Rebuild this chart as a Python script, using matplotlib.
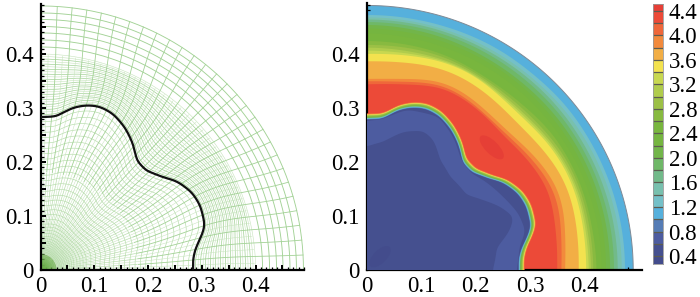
import numpy as np
import matplotlib
matplotlib.use("Agg")
from matplotlib import pyplot as plt
from matplotlib.patches import Ellipse

plt.rcParams['font.family'] = ['Liberation Serif', 'DejaVu Serif']
plt.rcParams['font.size'] = 16.5

# === DATA ===
# interface between the two fluids, polar
iface_theta = [0, 4, 8, 12, 15, 22, 27, 33, 37, 43, 48.5, 54, 59.3, 65, 70, 74.3, 79, 82.3, 84.6, 90]
iface_r = [.2836, .284, .291, .306, .3165, .32, .316, .302, .285, .269, .27, .291, .307, .319, .322, .317, .3055, .2916, .285, .283]

# colour bar
bar_edges = [.27, .4, .6, .8, 1.0, 1.2, 1.4, 1.6, 1.8, 2.0, 2.2, 2.4, 2.6, 2.8, 3.0, 3.2, 3.4, 3.6, 3.8, 4.0, 4.2, 4.4, 4.51]
bar_colors = ['#434c8c', '#45508f', '#4d5ca0', '#557cb5', '#56b0dc', '#74c0c8', '#78c0ae', '#72ba8a',
              '#6fb868', '#72b54a', '#75b540', '#78b63e', '#88ba40', '#9cc046', '#b0cc4c', '#c8d850',
              '#f3e24f', '#f2ae45', '#f28a3c', '#ef673a', '#ec4a38', '#e63f36']
bar_labels = [0.4, 0.8, 1.2, 1.6, 2.0, 2.4, 2.8, 3.2, 3.6, 4.0, 4.4]

# iso lines in the outer part, nearly circular
outer_theta = [0, 15, 30, 40, 50, 60, 75, 90]
outer_levels = [1.2, 1.4, 1.6, 1.8, 2.0, 2.2, 2.4]
outer_radii = [
    [.474, .474, .474, .475, .473, .474, .472, .4713],
    [.468, .468, .468, .468, .467, .467, .467, .467],
    [.4605, .461, .461, .462, .462, .462, .463, .463],
    [.4538, .454, .455, .456, .456, .457, .458, .4584],
    [.4465, .447, .448, .4485, .4483, .449, .452, .453],
    [.439, .440, .441, .442, .443, .444, .445, .4467],
    [.431, .432, .433, .433, .434, .435, .436, .4375],
]

# iso lines of the wavy hot band
wavy_theta = [0, 11, 17, 25, 30, 36, 44, 52, 60, 68, 75, 81, 90]
wavy_levels = [2.6, 2.8, 3.0, 3.2, 3.4, 3.6, 3.8, 4.0, 4.2]
wavy_radii = [
    [.422, .420, .422, .423, .423, .424, .419, .417, .417, .422, .423, .423, .4233],
    [.4158, .4155, .418, .419, .4195, .4165, .413, .4125, .414, .418, .418, .417, .4158],
    [.4115, .411, .414, .415, .415, .412, .408, .408, .412, .414, .412, .411, .411],
    [.4073, .4075, .411, .412, .4115, .409, .404, .405, .410, .412, .409, .406, .4053],
    [.4024, .404, .407, .409, .408, .406, .400, .402, .409, .410, .406, .402, .3986],
    [.3883, .392, .396, .398, .395, .391, .386, .390, .395, .397, .393, .388, .385],
    [.3627, .3695, .378, .381, .376, .371, .363, .365, .372, .375, .365, .356, .3523],
    [.356, .362, .370, .373, .368, .364, .357, .359, .366, .369, .359, .351, .348],
    [.3486, .353, .358, .365, .360, .358, .351, .357, .362, .365, .353, .347, .342],
]

# thin bands hugging the interface
skin_levels = [4.2, 4.0, 3.8, 3.6, 3.4, 3.2, 3.0, 2.8, 2.4, 2.0, 1.6, 1.2, 1.0, 0.8]
skin_offset = [.0058, .005, .0044, .0038, .0032, .0026, .002, .001, -.0004, -.0014, -.0024, -.0034, -.0044, -.0054]

# inner patches of the low value region
light_theta = [0, 8.5, 14, 20.6, 28, 37, 43, 50, 57, 65, 76, 84, 90]
light_r = [.275, .283, .3, .297, .285, .272, .262, .268, .292, .312, .305, .28, .275]
core_theta = [0, 10, 15.7, 20, 25.6, 31, 37, 48.4, 56.5, 63, 68, 75, 82.6, 90]
core_r = [.2312, .2424, .273, .2866, .271, .25, .23, .2306, .2438, .2696, .277, .2644, .239, .228]

# mesh
outer_radius = .489
mesh_split = .4
mesh_spokes = [0, 3.2, 6.4, 9.6, 12.8, 16, 19.2, 22.4, 25.6, 28.8, 32, 35.2, 38.4, 41.6, 44.8, 48,
               51.2, 54.4, 57.6, 60.8, 64, 67.2, 70.4, 73.6, 76.8, 80, 83.2, 86.4, 90]
mesh_inner = [.006, .012, .018, .024, .03, .036, .043, .05, .057, .065, .073, .08, .09, .10, .11, .12, .13, .14,
              .152, .165, .178, .19, .205, .22, .24, .26, .28, .30, .33, .36, .39, .42, .45, .48, .515, .55, .585, .62,
              .655, .69, .725, .76, .795, .83, .865, .90, .935, .97]
mesh_middle = [.04, .08, .12, .16, .20, .24, .28, .32, .36, .40, .44, .48, .52, .56, .60, .64, .68, .72, .76, .80, .84,
               .88, .92, .96]
mesh_coarse = [.413, .426, .439, .451, .464, .476]


# === FUNCTION ===
def polar_line(theta_nodes, r_nodes, window, passes=1):
    # resample on a fine angle and take the corners off
    t = np.linspace(0, 90, 361)
    r = np.interp(t, theta_nodes, r_nodes)
    pad = window // 2
    for _ in range(passes):
        r = np.convolve(np.pad(r, pad, mode='edge'), np.ones(window) / window, mode='valid')
    return np.radians(t), r


def fill_polar(ax, theta, r, color, z):
    x = np.concatenate([[0], r * np.cos(theta), [0]])
    y = np.concatenate([[0], r * np.sin(theta), [0]])
    ax.fill(x, y, color=color, lw=0, zorder=z)


def band_above(level):
    return bar_colors[np.searchsorted(bar_edges, level + .01) - 1]


def band_below(level):
    return bar_colors[np.searchsorted(bar_edges, level - .01) - 1]


def style_axes(ax, xminor):
    for side in ['top', 'right']:
        ax.spines[side].set_visible(False)
    for side in ['left', 'bottom']:
        ax.spines[side].set_linewidth(1.6)
    ax.set_yticks([0, .05, .1, .15, .2, .25, .3, .35, .4, .45])
    ax.set_yticklabels(['0', '', '0.1', '', '0.2', '', '0.3', '', '0.4', ''])
    ax.set_yticks(np.arange(0, .495, .01), minor=True)
    if xminor == .01:
        ax.set_xticks([0, .05, .1, .15, .2, .25, .3, .35, .4, .45])
        ax.set_xticklabels(['0', '', '0.1', '', '0.2', '', '0.3', '', '0.4', ''])
    else:
        ax.set_xticks([0, .1, .2, .3, .4])
        ax.set_xticklabels(['0', '0.1', '0.2', '0.3', '0.4'])
    ax.set_xticks(np.arange(0, .495, xminor), minor=True)
    ax.tick_params(which='major', direction='in', length=3.8, width=1.4, pad=5)
    ax.tick_params(which='minor', direction='in', length=2.2, width=.9)
    ax.tick_params(axis='x', which='major', pad=4)


# === PLOT ===
W, H = 700, 297
fig = plt.figure(figsize=(W / 100, H / 100), dpi=100)

ax1 = fig.add_axes([40.5 / W, (H - 270) / H, 263.5 / W, 266 / H])
ax1.set_xlim(0, .488)
ax1.set_ylim(0, .4926)
ax2 = fig.add_axes([366.7 / W, (H - 270) / H, 275 / W, 266.7 / H])
ax2.set_xlim(0, .5046)
ax2.set_ylim(0, .493)

t, R = polar_line(iface_theta, iface_r, 13, 2)

# left: mesh
faint = '#c6e4bc'
dense = '#b4dba8'
coarse = '#a3d296'
for f in mesh_inner:
    r = f * (.283 + (R - .283) * f)
    ax1.plot(r * np.cos(t), r * np.sin(t), color='#8cc672' if f < .06 else dense, lw=.45, zorder=1)
for i, s in enumerate(mesh_middle):
    r = R + (mesh_split - R) * s
    ax1.plot(r * np.cos(t), r * np.sin(t), color=faint if i % 2 else coarse, lw=.4 if i % 2 else .5, zorder=1)
ax1.plot(mesh_split * np.cos(t), mesh_split * np.sin(t), color=faint, lw=.4, zorder=1)
for rc in mesh_coarse + [outer_radius]:
    ax1.plot(rc * np.cos(t), rc * np.sin(t), color=coarse, lw=.65, zorder=1)

rr = np.linspace(0, outer_radius, 200)
spokes_fine = [(a + b) / 2 for a, b in zip(mesh_spokes[:-1], mesh_spokes[1:])]
for a in spokes_fine:
    bend = 3.0 * np.sin(np.radians(4 * a)) * np.exp(-((rr - .33) / .1) ** 2)
    th = np.radians(a + bend)
    keep = (rr <= mesh_split) & (rr >= .015)
    ax1.plot(rr[keep] * np.cos(th[keep]), rr[keep] * np.sin(th[keep]), color=faint, lw=.35, zorder=1)
for a in mesh_spokes:
    bend = 3.0 * np.sin(np.radians(4 * a)) * np.exp(-((rr - .33) / .1) ** 2)
    th = np.radians(a + bend)
    far = rr >= .18
    ax1.plot(rr[far] * np.cos(th[far]), rr[far] * np.sin(th[far]), color=coarse, lw=.6, zorder=1)
    mid = (rr < .18) & (rr > .03)
    ax1.plot(rr[mid] * np.cos(th[mid]), rr[mid] * np.sin(th[mid]), color=dense, lw=.45, zorder=1)
    near = rr <= .03
    ax1.plot(rr[near] * np.cos(th[near]), rr[near] * np.sin(th[near]), color='#6cae4c', lw=.45, zorder=2)

ax1.plot(R * np.cos(t), R * np.sin(t), color='#111111', lw=1.6, zorder=3)
style_axes(ax1, .01)

# right: filled bands, painted from the outside in
ax2.fill(np.concatenate([[0], outer_radius * np.cos(t), [0]]),
         np.concatenate([[0], outer_radius * np.sin(t), [0]]),
         facecolor=band_above(1.0), edgecolor='#7f8a96', lw=.7, zorder=1)
for level, radii in zip(outer_levels, outer_radii):
    ti, ri = polar_line(outer_theta, radii, 41)
    fill_polar(ax2, ti, ri, band_above(level), 2)
for level, radii in zip(wavy_levels, wavy_radii):
    ti, ri = polar_line(wavy_theta, radii, 31, 3)
    fill_polar(ax2, ti, ri, band_above(level), 2)

fill_polar(ax2, t, R + skin_offset[0], band_below(skin_levels[0]), 3)
ax2.add_patch(Ellipse((.2294, .2267), .058, .024, angle=-45, color=bar_colors[-1], lw=0, zorder=3))
for level, off in zip(skin_levels, skin_offset):
    fill_polar(ax2, t, R + off, band_below(level), 4)
fill_polar(ax2, t, R + skin_offset[-1], bar_colors[1], 5)

tl, rl = polar_line(light_theta, light_r, 13, 2)
rl = np.minimum(rl, R - .0058)
fill_polar(ax2, tl, rl, bar_colors[2], 6)
tc, rc = polar_line(core_theta, core_r, 13, 2)
fill_polar(ax2, tc, rc, bar_colors[1], 7)
ax2.add_patch(Ellipse((.0245, .0246), .05, .024, angle=45, color=bar_colors[0], lw=0, zorder=8))
style_axes(ax2, .02)

# colour bar
cax = fig.add_axes([652.7 / W, (H - 264) / H, 10.3 / W, 260 / H])
for i, c in enumerate(bar_colors):
    cax.bar(.5, bar_edges[i + 1] - bar_edges[i], bottom=bar_edges[i], width=1, color=c, lw=0)
cax.hlines(bar_edges[1:-1], 0, 1, color='#5c5c50', lw=.9)
cax.set_xlim(0, 1)
cax.set_ylim(bar_edges[0], bar_edges[-1])
cax.set_xticks([])
cax.yaxis.tick_right()
cax.set_yticks(bar_labels)
cax.set_yticklabels(['%.1f' % v for v in bar_labels])
cax.tick_params(length=0, pad=4)
for side in cax.spines:
    cax.spines[side].set_color('#999999')
    cax.spines[side].set_linewidth(.6)

fig.savefig("out.png", dpi=100)
